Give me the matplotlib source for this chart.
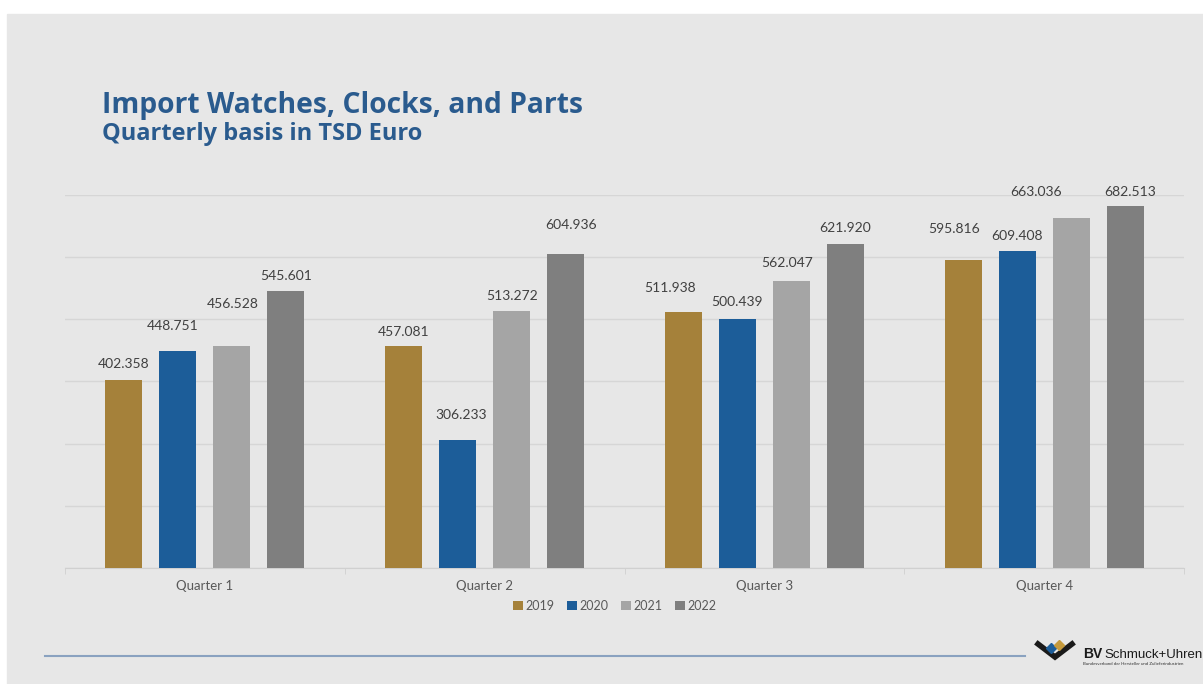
import matplotlib.pyplot as plt
import numpy as np
from matplotlib.patches import Rectangle
from matplotlib.lines import Line2D

# Daten (TSD Euro)
quarters = ['Quarter 1', 'Quarter 2', 'Quarter 3', 'Quarter 4']
years = ['2019', '2020', '2021', '2022']
v2019 = [402.358, 457.081, 511.938, 595.816]
v2020 = [448.751, 306.233, 500.439, 609.408]
v2021 = [456.528, 513.272, 562.047, 663.036]
v2022 = [545.601, 604.936, 621.920, 682.513]

colors = ['#A5813A', '#1C5D99', '#A5A5A5', '#7F7F7F']

# Verschiebung der Beschriftungen (Pixel), wie im Original manuell gesetzt
label_offsets = [
    [(0, 16), (0, 14), (-13, 24), (-9, 31)],
    [(-5, 25), (3, 25), (0, 17), (0, 15)],
    [(1, 42), (0, 15), (-4, 18), (-35, 26)],
    [(0, 15), (5, 29), (0, 16), (5, 14)],
]

W, H = 1203, 684
plt.rcParams['font.family'] = ['Lato', 'DejaVu Sans']

fig = plt.figure(figsize=(W / 100, H / 100), dpi=100)
fig.patch.set_facecolor('white')
fig.add_artist(Rectangle((7 / W, 0), 1, 1 - 14 / H, transform=fig.transFigure,
                         color='#E7E7E7', zorder=-10))

ax = fig.add_axes([65 / W, 1 - 568 / H, (1184 - 65) / W, (568 - 195) / H])
ax.set_facecolor('none')

x = np.arange(len(quarters))
step = 0.193
width = 0.132
handles = []
for i, (vals, col, offs) in enumerate(zip([v2019, v2020, v2021, v2022], colors, label_offsets)):
    pos = x + (i - 1.5) * step
    b = ax.bar(pos, vals, width, color=col, zorder=3)
    handles.append(b)
    for p, v, (dx, dy) in zip(pos, vals, offs):
        ax.annotate(f'{v:.3f}', (p, v), xytext=(dx, dy), textcoords='offset pixels',
                    ha='center', va='center', fontsize=10, color='#404040')

ax.set_ylim(100, 700)
ax.set_yticks(range(100, 800, 100))
ax.yaxis.grid(True, color='#D6D6D6', lw=1)
ax.set_axisbelow(True)
ax.tick_params(axis='y', length=0, labelleft=False)

ax.set_xlim(-0.5, 3.5)
ax.set_xticks(x, quarters)
ax.set_xticks(np.arange(-0.5, 4, 1), minor=True)
ax.tick_params(axis='x', which='minor', length=4, color='#D0D0D0')
ax.tick_params(axis='x', which='major', length=0, pad=9, labelsize=9.5, labelcolor='#595959')

for s in ['top', 'left', 'right']:
    ax.spines[s].set_visible(False)
ax.spines['bottom'].set_color('#D0D0D0')

fig.legend(handles, years, loc='center', bbox_to_anchor=(615 / W, 1 - 606 / H), ncol=4,
           frameon=False, fontsize=9, handlelength=0.8, handleheight=0.8,
           handletextpad=0.2, columnspacing=1.0, labelcolor='#595959')

# Titel
fig.text(102 / W, 1 - 113 / H, 'Import Watches, Clocks, and Parts', fontsize=20.3,
         fontweight='bold', color='#2A5B8E', va='baseline', family='Open Sans')
fig.text(102 / W, 1 - 140 / H, 'Quarterly basis in TSD Euro', fontsize=17,
         fontweight='bold', color='#2A5B8E', va='baseline', family='Open Sans')

# Linie unten
fig.add_artist(Line2D([45 / W, 1025 / W], [1 - 656 / H] * 2, color='#8AA2C0', lw=1.5))

# Logo
fig.add_artist(Line2D([1038 / W, 1055 / W, 1072 / W], [1 - 644 / H, 1 - 657 / H, 1 - 644 / H],
                      color='#1A1A1A', lw=4, solid_joinstyle='miter'))
fig.add_artist(Line2D([1051 / W], [1 - 648 / H], marker='D', ms=5, color='#1C5D99', lw=0))
fig.add_artist(Line2D([1059 / W], [1 - 645 / H], marker='D', ms=5, color='#C59A3C', lw=0))
fig.text(1083 / W, 1 - 658 / H, 'BV', fontsize=10, fontweight='bold', color='#1A1A1A',
         va='baseline', family='Liberation Sans')
fig.text(1104 / W, 1 - 658 / H, 'Schmuck+Uhren', fontsize=9.5, color='#1A1A1A',
         va='baseline', family='Liberation Sans')
fig.text(1083 / W, 1 - 665 / H, 'Bundesverband der Hersteller und Zulieferindustrien',
         fontsize=3.2, color='#333333', va='baseline')

fig.savefig('out.png', dpi=100)
